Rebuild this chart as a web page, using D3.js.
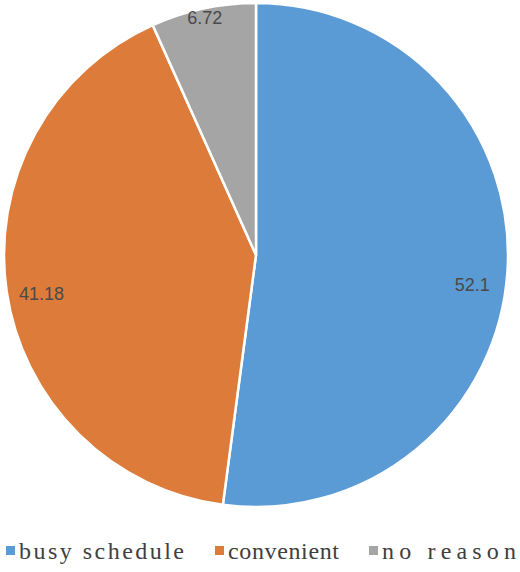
<!DOCTYPE html>
<html><head><meta charset="utf-8">
<script src="https://d3js.org/d3.v7.min.js"></script>
<style>body{margin:0;background:#fff}</style></head>
<body><svg id="c" width="520" height="572"></svg>
<script>
const categories = ["busy schedule","convenient","no reason"];
const values = [52.1, 41.18, 6.72];
const colors = ["#5b9bd5","#dd7c3a","#a5a5a5"];

const svg = d3.select("#c");
const cx = 256, cy = 255, R = 252;
const pie = d3.pie().sort(null).value(d=>d)(values);
const arc = d3.arc().innerRadius(0).outerRadius(R);
const g = svg.append("g").attr("transform",`translate(${cx},${cy})`);
g.selectAll("path").data(pie).enter().append("path")
  .attr("d",arc).attr("fill",(d,i)=>colors[i])
  .attr("stroke","#fff").attr("stroke-width",2.5);
const offs = [[0,16],[0,8],[0,2]];
g.selectAll("text").data(pie).enter().append("text")
  .attr("transform",(d,i)=>{
    const r = i===2 ? R*0.97 : R*0.86;
    const a = (d.startAngle+d.endAngle)/2;
    return `translate(${r*Math.sin(a)+offs[i][0]},${-r*Math.cos(a)+offs[i][1]})`;
  })
  .attr("text-anchor","middle").attr("dominant-baseline","central")
  .attr("font-family","Liberation Sans, Arial, sans-serif").attr("font-size",18)
  .attr("fill","#4a4a4a").text(d=>d.data);

const lx = [6, 215, 369];
const lw = [165, 111, 134];
const lg = svg.append("g");
categories.forEach((c,i)=>{
  lg.append("rect").attr("x",lx[i]).attr("y",546).attr("width",9).attr("height",9).attr("fill",colors[i]);
  lg.append("text").attr("x",lx[i]+13).attr("y",559)
    .attr("font-family","Liberation Serif, Times New Roman, serif").attr("font-size",24)
    .attr("textLength",lw[i]).attr("lengthAdjust","spacing")
    .attr("fill","#404040").text(c);
});
</script></body></html>
